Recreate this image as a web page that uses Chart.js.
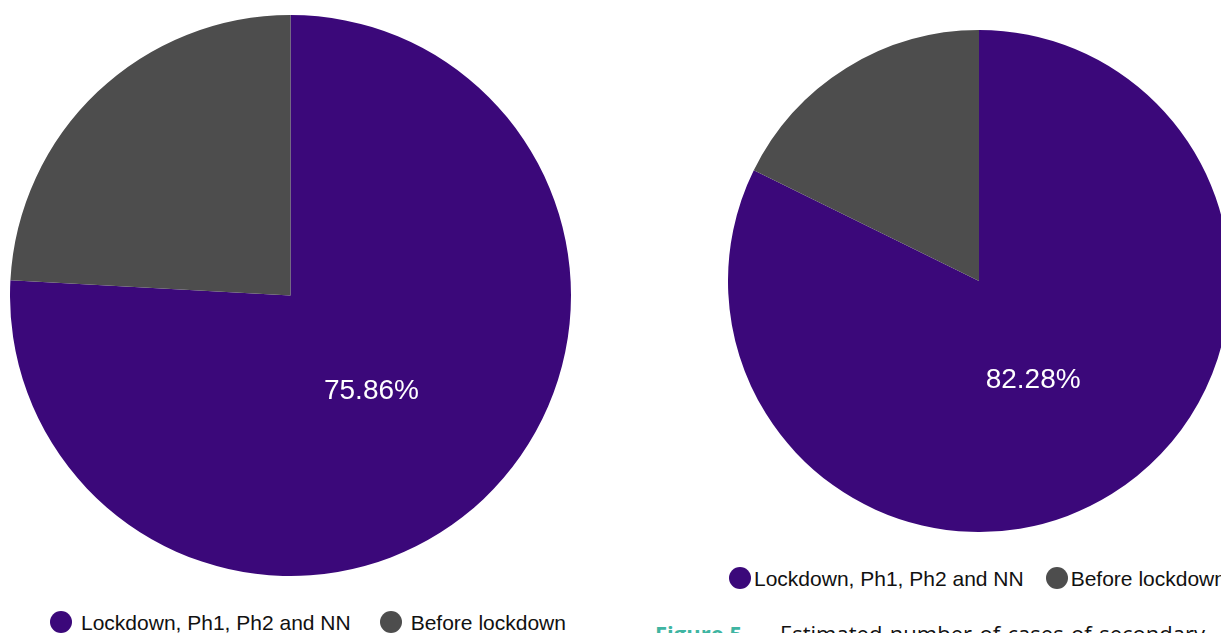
<!DOCTYPE html>
<html>
<head>
<meta charset="utf-8">
<script src="https://cdn.jsdelivr.net/npm/chart.js@4/dist/chart.umd.min.js"></script>
<style>
  html, body { margin: 0; padding: 0; background: #ffffff; }
  body { width: 1221px; height: 633px; overflow: hidden; position: relative; font-family: "Liberation Sans", Arial, Helvetica, sans-serif; }
  .pie { position: absolute; }
  .legend { position: absolute; display: flex; align-items: center; white-space: nowrap; color: #111; font-size: 21px; line-height: 21px; }
  .legend .item { display: flex; align-items: center; }
  .legend .dot { border-radius: 50%; flex: none; }
  .caption { position: absolute; top: 622px; font-family: "Open Sans", "Noto Sans", sans-serif; font-size: 22px; line-height: 22px; white-space: nowrap; }
  .caption.fig { left: 655px; color: #3fb5a2; font-weight: bold; }
  .caption.txt { left: 780px; width: 425px; color: #111; text-align: justify; text-align-last: justify; white-space: normal; }
</style>
</head>
<body>
<div class="pie" style="left:10px; top:15px;"><canvas id="pieLeft" width="561" height="561"></canvas></div>
<div class="pie" style="left:728px; top:30px;"><canvas id="pieRight" width="502" height="502"></canvas></div>
<div class="legend" id="legendLeft" style="left:50px; top:611px;"></div>
<div class="legend" id="legendRight" style="left:729px; top:567px;"></div>
<div class="caption fig">Figure 5</div>
<div class="caption txt">Estimated number of cases of secondary</div>

<script>
// Slice categories and their shares (percent)
const categories = ['Lockdown, Ph1, Ph2 and NN', 'Before lockdown'];
const leftShares = [75.86, 24.14];
const rightShares = [82.28, 17.72];
const sliceColors = ['#3b087a', '#4d4d4d'];

// Writes the share of the first slice inside it, white, part-way out from the centre
const shareLabel = {
  id: 'shareLabel',
  afterDatasetsDraw(chart) {
    const meta = chart.getDatasetMeta(0);
    const arc = meta.data[0];
    const value = chart.data.datasets[0].data[0];
    const mid = (arc.startAngle + arc.endAngle) / 2 + 0.047;
    const r = arc.outerRadius * 0.442;
    const ctx = chart.ctx;
    ctx.save();
    ctx.fillStyle = '#ffffff';
    ctx.font = '28px "Liberation Sans", Arial, sans-serif';
    ctx.textAlign = 'center';
    ctx.textBaseline = 'alphabetic';
    ctx.fillText(value.toFixed(2) + '%', arc.x + Math.cos(mid) * r, arc.y + Math.sin(mid) * r + 10);
    ctx.restore();
  }
};

function makePie(id, shares) {
  return new Chart(document.getElementById(id), {
    type: 'pie',
    data: {
      labels: categories,
      datasets: [{ data: shares, backgroundColor: sliceColors, borderWidth: 0 }]
    },
    options: {
      responsive: false,
      animation: false,
      devicePixelRatio: 1,
      layout: { padding: 0 },
      plugins: { legend: { display: false }, tooltip: { enabled: false } }
    },
    plugins: [shareLabel]
  });
}

// Builds a row of circle markers with their category names
function makeLegend(id, dotSize, textGap, itemGap) {
  const box = document.getElementById(id);
  categories.forEach((name, i) => {
    const item = document.createElement('div');
    item.className = 'item';
    if (i > 0) item.style.marginLeft = itemGap + 'px';
    const dot = document.createElement('span');
    dot.className = 'dot';
    dot.style.width = dotSize + 'px';
    dot.style.height = dotSize + 'px';
    dot.style.background = sliceColors[i];
    dot.style.marginRight = textGap + 'px';
    const label = document.createElement('span');
    label.textContent = name;
    item.appendChild(dot);
    item.appendChild(label);
    box.appendChild(item);
  });
}

makePie('pieLeft', leftShares);
makePie('pieRight', rightShares);
makeLegend('legendLeft', 22, 9, 29);
makeLegend('legendRight', 22, 3, 22);
</script>
</body>
</html>
